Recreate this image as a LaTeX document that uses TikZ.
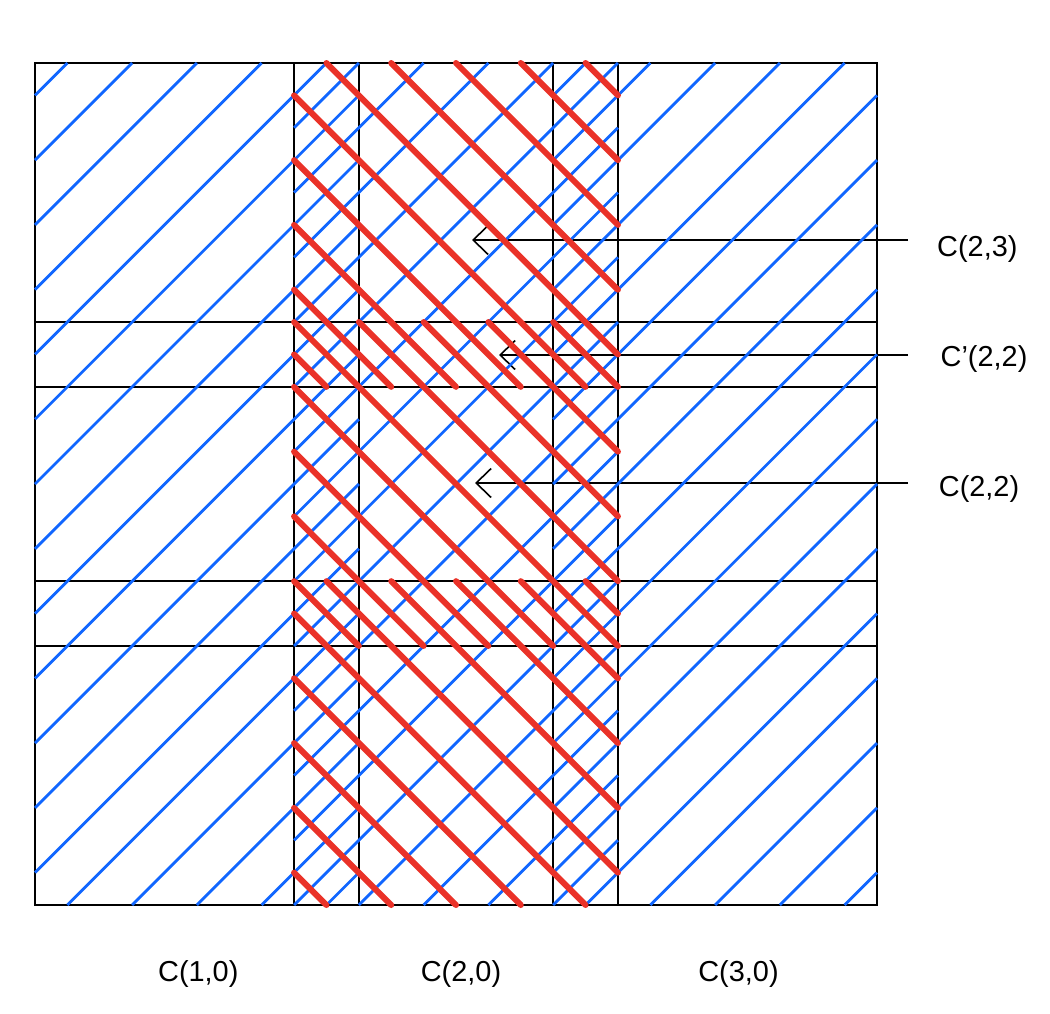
\documentclass[tikz,border=0pt]{standalone}
\usepackage{fontspec}
\setmainfont{Liberation Sans}
\usetikzlibrary{arrows.meta}
\definecolor{hblue}{RGB}{16,102,255}
\definecolor{hred}{RGB}{234,50,40}
\tikzset{
  gridline/.style={black, line width=1.8bp},
  blueline/.style={hblue, line width=2.8bp},
  redline/.style={hred, line width=6bp, line cap=round},
  pointer/.style={black, line width=1.6bp, -{Straight Barb[length=15bp,width=29bp,line width=1.6bp]}},
  lbl/.style={font=\fontsize{29}{33}\selectfont, inner sep=0pt},
}
\begin{document}
\begin{tikzpicture}[x=1bp,y=-1bp]
\fill[white] (0,0) rectangle (1050,1014);
\useasboundingbox (0,0) rectangle (1050,1014);
% labels
\node[lbl, anchor=base west] (l23) at (937,256) {C(2,3)};
\node[lbl, anchor=base west] (l22p) at (940.5,366.5) {C’(2,2)};
\node[lbl, anchor=base west] (l22) at (938.7,496) {C(2,2)};
\node[lbl, anchor=base] (b10) at (198.3,981) {C(1,0)};
\node[lbl, anchor=base] (b20) at (461,981) {C(2,0)};
\node[lbl, anchor=base] (b30) at (738.5,981) {C(3,0)};
% pointers
\coordinate (s23) at (908,240);   \coordinate (t23) at (472,240);
\coordinate (s22p) at (908,355);  \coordinate (t22p) at (499,355);
\coordinate (s22) at (908,483);   \coordinate (t22) at (475,483);
\draw[pointer] (s23) -- (t23);
\draw[pointer] (s22p) -- (t22p);
\draw[pointer] (s22) -- (t22);
\begin{scope}[shift={(35,63)},x=64.7692bp,y=-64.7692bp]
  \draw[gridline] (0,0) rectangle (13,13);
  \foreach \p in {4,5,8,9}{
    \draw[gridline] (\p,0) -- (\p,13);
    \draw[gridline] (0,\p) -- (13,\p);
  }
  % blue hatching in three overlapping vertical bands
  \foreach \ra/\rb/\ro in {0/5/0.5,4/9/0,8/13/0.5}{
    \foreach \k in {0,...,26}{
      \pgfmathsetmacro\cc{\k+\ro}
      \pgfmathsetmacro\xs{max(\ra,\cc-13)}
      \pgfmathsetmacro\xe{min(\rb,\cc)}
      \pgfmathsetmacro\ys{\cc-\xs}
      \pgfmathsetmacro\ye{\cc-\xe}
      \pgfmathtruncatemacro\ok{(\xe-\xs)>0.01}
      \ifnum\ok=1 \draw[blueline] (\xs,\ys) -- (\xe,\ye);\fi
    }
  }
  % red hatching in three overlapping horizontal bands
  \foreach \ra/\rb/\ro in {0/5/0.5,4/9/0,8/13/0.5}{
    \foreach \k in {-13,...,13}{
      \pgfmathsetmacro\dd{\k+\ro}
      \pgfmathsetmacro\xs{max(4,\ra+\dd)}
      \pgfmathsetmacro\xe{min(9,\rb+\dd)}
      \pgfmathsetmacro\ys{\xs-\dd}
      \pgfmathsetmacro\ye{\xe-\dd}
      \pgfmathtruncatemacro\ok{(\xe-\xs)>0.01}
      \ifnum\ok=1 \draw[redline] (\xs,\ys) -- (\xe,\ye);\fi
    }
  }
\end{scope}
\end{tikzpicture}
\end{document}
